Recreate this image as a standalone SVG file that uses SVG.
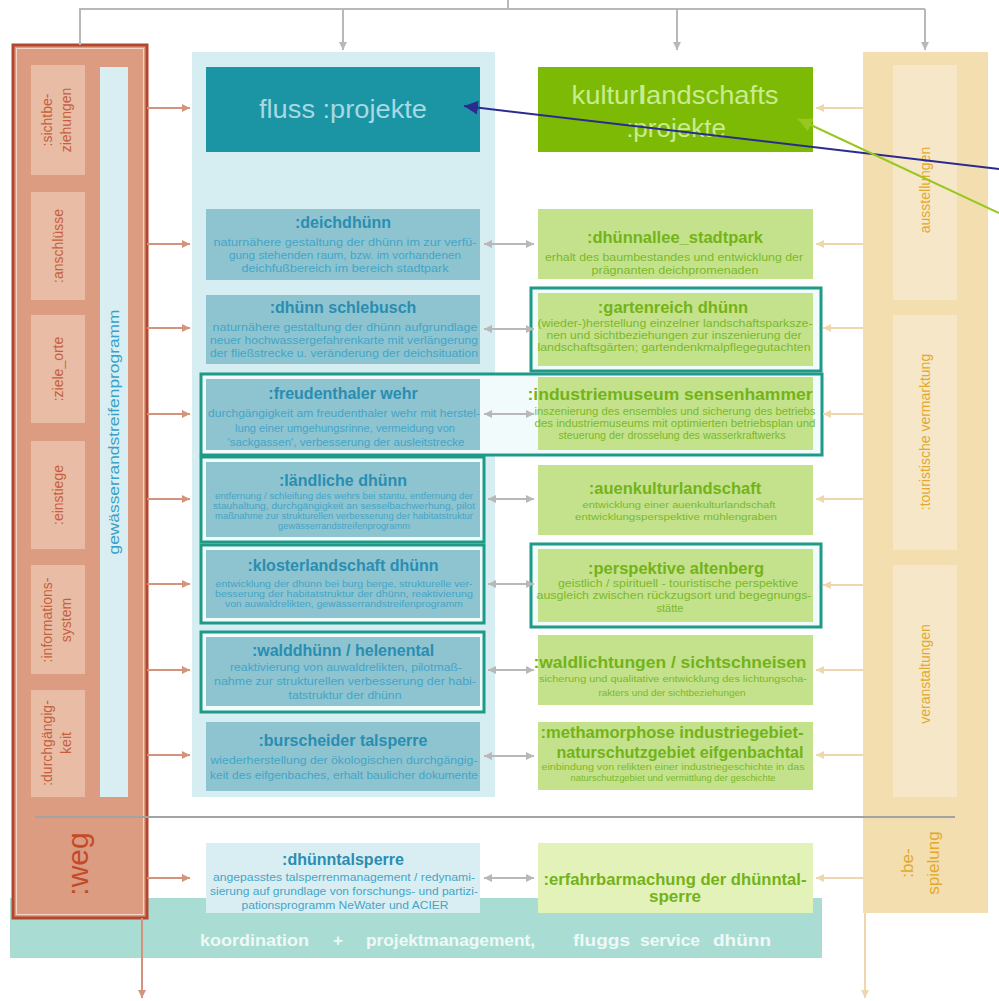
<svg xmlns="http://www.w3.org/2000/svg" width="999" height="1001" viewBox="0 0 999 1001">
<style>
text{font-family:"Liberation Sans",Arial,sans-serif}
.ct{font-weight:bold;font-size:16px;fill:#2a8db2;text-anchor:middle}
.cb{font-size:11px;fill:#45a5c6;text-anchor:middle}
.gt{font-weight:bold;font-size:16.5px;fill:#73b319;text-anchor:middle}
.gb{font-size:10px;fill:#7bb92a;text-anchor:middle}
.cn{fill:#8dc4d0}
.gn{fill:#c4e28b}
.ol{fill:#f2fbfb;stroke:#1f9a88;stroke-width:3}
.lb{fill:#e9bca6}
.ll{font-size:14px;fill:#c4603c;text-anchor:middle}
.rb{fill:#f6e7c9}
.rl{font-size:14px;fill:#e2a92a;text-anchor:middle}
.sal{stroke:#d4937c;stroke-width:2;fill:none}
.bei{stroke:#efd6ad;stroke-width:2;fill:none}
.gry{stroke:#b8b8b8;stroke-width:2;fill:none}
.bt{font-weight:bold;font-size:17px;fill:#eef9f6}
</style>
<defs>
<marker id="ah-sal" viewBox="0 0 10 10" refX="10" refY="5" markerWidth="8" markerHeight="8" markerUnits="userSpaceOnUse" orient="auto"><path d="M0,0 L10,5 L0,10 z" fill="#d4937c"/></marker>
<marker id="ah-bei" viewBox="0 0 10 10" refX="10" refY="5" markerWidth="8" markerHeight="8" markerUnits="userSpaceOnUse" orient="auto"><path d="M0,0 L10,5 L0,10 z" fill="#efd6ad"/></marker>
<marker id="ah-gry" viewBox="0 0 10 10" refX="10" refY="5" markerWidth="8" markerHeight="8" markerUnits="userSpaceOnUse" orient="auto-start-reverse"><path d="M0,0 L10,5 L0,10 z" fill="#b8b8b8"/></marker>
<marker id="ah-navy" viewBox="0 0 10 10" refX="10" refY="5" markerWidth="14" markerHeight="14" markerUnits="userSpaceOnUse" orient="auto"><path d="M0,0 L10,5 L0,10 z" fill="#2b2b8f"/></marker>
<marker id="ah-lime" viewBox="0 0 10 10" refX="10" refY="5" markerWidth="14" markerHeight="14" markerUnits="userSpaceOnUse" orient="auto"><path d="M0,0 L10,5 L0,10 z" fill="#96c81e"/></marker>
</defs>
<rect width="999" height="1001" fill="#ffffff"/>

<g id="koordination">
<rect x="10" y="898" width="812" height="60" fill="#a9ddd4"/>
<text class="bt" x="200" y="946" textLength="109" lengthAdjust="spacingAndGlyphs">koordination</text>
<text class="bt" x="333" y="946">+</text>
<text class="bt" x="366" y="946" textLength="169" lengthAdjust="spacingAndGlyphs">projektmanagement,</text>
<text class="bt" x="573" y="946" textLength="57" lengthAdjust="spacingAndGlyphs">fluggs</text>
<text class="bt" x="640" y="946" textLength="60" lengthAdjust="spacingAndGlyphs">service</text>
<text class="bt" x="713" y="946" textLength="58" lengthAdjust="spacingAndGlyphs">dhünn</text>
</g>

<g id="weg">
<rect x="13" y="45" width="134" height="873" fill="#dc9c82" stroke="#b4462e" stroke-width="3"/>
<rect x="16.5" y="48.5" width="127" height="866" fill="none" stroke="#f3d6c8" stroke-width="1"/>
<rect x="100" y="67" width="28" height="730" fill="#d8eef2"/>
<text x="0" y="0" transform="translate(114,432) rotate(-90)" font-size="14" fill="#3aa0c8" text-anchor="middle" dominant-baseline="central" textLength="245" lengthAdjust="spacingAndGlyphs">gewässerrandstreifenprogramm</text>
<g id="weg-sichtbeziehungen"><rect class="lb" x="31" y="65" width="54" height="110"/><text class="ll" transform="translate(58,120) rotate(-90)"><tspan x="0" y="-6">:sichtbe-</tspan><tspan x="0" y="13">ziehungen</tspan></text></g>
<g id="weg-anschluesse"><rect class="lb" x="31" y="192" width="54" height="108"/><text class="ll" transform="translate(58,246) rotate(-90)" x="0" y="5">:anschlüsse</text></g>
<g id="weg-ziele"><rect class="lb" x="31" y="315" width="54" height="108"/><text class="ll" transform="translate(58,369) rotate(-90)" x="0" y="5">:ziele_orte</text></g>
<g id="weg-einstiege"><rect class="lb" x="31" y="441" width="54" height="108"/><text class="ll" transform="translate(58,495) rotate(-90)" x="0" y="5">:einstiege</text></g>
<g id="weg-information"><rect class="lb" x="31" y="565" width="54" height="109"/><text class="ll" transform="translate(58,620) rotate(-90)"><tspan x="0" y="-6">:informations-</tspan><tspan x="0" y="13">system</tspan></text></g>
<g id="weg-durchgaengigkeit"><rect class="lb" x="31" y="690" width="54" height="107"/><text class="ll" transform="translate(58,743) rotate(-90)"><tspan x="0" y="-6">:durchgängig-</tspan><tspan x="0" y="13">keit</tspan></text></g>
<text transform="translate(80,864) rotate(-90)" x="0" y="8" font-size="30" fill="#c24b29" text-anchor="middle">:weg</text>
</g>

<rect id="fluss-bg" x="192" y="52" width="303" height="745" fill="#d6edf1"/>

<g id="bespielung">
<rect x="863" y="52" width="125" height="861" fill="#f3deb0"/>
<g id="bespielung-ausstellungen"><rect class="rb" x="893" y="65" width="64" height="235"/><text class="rl" transform="translate(925,190) rotate(-90)" x="0" y="5">ausstellungen</text></g>
<g id="bespielung-vermarktung"><rect class="rb" x="893" y="315" width="64" height="235"/><text class="rl" transform="translate(925,432) rotate(-90)" x="0" y="5">:touristische vermarktung</text></g>
<g id="bespielung-veranstaltungen"><rect class="rb" x="893" y="565" width="64" height="232"/><text class="rl" transform="translate(925,674) rotate(-90)" x="0" y="5">veranstaltungen</text></g>
<text class="rl" style="font-size:17px" transform="translate(920,863) rotate(-90)"><tspan x="0" y="-7">:be-</tspan><tspan x="0" y="19">spielung</tspan></text>
</g>

<line id="separator" x1="35" y1="817" x2="955" y2="817" stroke="#a3a3a3" stroke-width="2"/>

<g id="outlines">
<rect class="ol" x="201" y="374" width="621" height="81"/>
<rect class="ol" x="531" y="288" width="290" height="83"/>
<rect class="ol" x="201" y="457" width="283" height="85"/>
<rect class="ol" x="201" y="545" width="283" height="78"/>
<rect class="ol" x="531" y="544" width="290" height="83"/>
<rect class="ol" x="201" y="632" width="283" height="80"/>
</g>

<g id="fluss-projekte">
<rect x="206" y="67" width="274" height="85" fill="#1b94a3"/>
<text x="343" y="118" font-size="26" fill="#a6dae2" text-anchor="middle" textLength="168" lengthAdjust="spacingAndGlyphs">fluss :projekte</text>
</g>
<g id="kulturlandschafts-projekte">
<rect x="538" y="67" width="275" height="85" fill="#7cba05"/>
<text x="675" y="104" font-size="26" fill="#c9ec8e" text-anchor="middle" textLength="207" lengthAdjust="spacingAndGlyphs">kultur<tspan font-weight="bold">l</tspan>andschafts</text>
<text x="676" y="137" font-size="26" fill="#c9ec8e" text-anchor="middle">:projekte</text>
</g>

<g id="deichdhuenn"><rect class="cn" x="206" y="209" width="274" height="71"/>
<text class="ct" x="343" y="228">:deichdhünn</text>
<text class="cb" x="345" y="246" textLength="263" lengthAdjust="spacingAndGlyphs">naturnähere gestaltung der dhünn im zur verfü-</text>
<text class="cb" x="345" y="259" textLength="232" lengthAdjust="spacingAndGlyphs">gung stehenden raum, bzw. im vorhandenen</text>
<text class="cb" x="345" y="272" textLength="207" lengthAdjust="spacingAndGlyphs">deichfußbereich im bereich stadtpark</text></g>

<g id="dhuenn-schlebusch"><rect class="cn" x="206" y="295" width="274" height="69"/>
<text class="ct" x="343" y="313">:dhünn schlebusch</text>
<text class="cb" x="345" y="331" textLength="265" lengthAdjust="spacingAndGlyphs">naturnähere gestaltung der dhünn aufgrundlage</text>
<text class="cb" x="344" y="344" textLength="268" lengthAdjust="spacingAndGlyphs">neuer hochwassergefahrenkarte mit verlängerung</text>
<text class="cb" x="344" y="357" textLength="268" lengthAdjust="spacingAndGlyphs">der fließstrecke u. veränderung der deichsituation</text></g>

<g id="freudenthaler-wehr"><rect class="cn" x="206" y="379" width="274" height="71"/>
<text class="ct" x="343" y="399">:freudenthaler wehr</text>
<text class="cb" x="344" y="417" textLength="272" lengthAdjust="spacingAndGlyphs">durchgängigkeit am freudenthaler wehr mit herstel-</text>
<text class="cb" x="345" y="432" textLength="220" lengthAdjust="spacingAndGlyphs">lung einer umgehungsrinne, vermeidung von</text>
<text class="cb" x="346" y="446" textLength="237" lengthAdjust="spacingAndGlyphs">'sackgassen', verbesserung der ausleitstrecke</text></g>

<g id="laendliche-dhuenn"><rect class="cn" x="206" y="462" width="274" height="75"/>
<text class="ct" x="343" y="486">:ländliche dhünn</text>
<text class="cb" style="font-size:8.5px" x="344" y="499" textLength="258" lengthAdjust="spacingAndGlyphs">entfernung / schleifung des wehrs bei stantu, entfernung der</text>
<text class="cb" style="font-size:8.5px" x="344" y="509" textLength="262" lengthAdjust="spacingAndGlyphs">stauhaltung, durchgängigkeit an sesselbachwerhung, pilot</text>
<text class="cb" style="font-size:8.5px" x="344" y="519" textLength="258" lengthAdjust="spacingAndGlyphs">maßnahme zur strukturellen verbesserung der habitatstruktur</text>
<text class="cb" style="font-size:8.5px" x="344" y="529" textLength="132" lengthAdjust="spacingAndGlyphs">gewässerrandstreifenprogramm</text></g>

<g id="klosterlandschaft-dhuenn"><rect class="cn" x="206" y="550" width="274" height="68"/>
<text class="ct" x="343" y="571">:klosterlandschaft dhünn</text>
<text class="cb" style="font-size:9.5px" x="344" y="587" textLength="257" lengthAdjust="spacingAndGlyphs">entwicklung der dhünn bei burg berge, strukturelle ver-</text>
<text class="cb" style="font-size:9.5px" x="344" y="597" textLength="258" lengthAdjust="spacingAndGlyphs">besserung der habitatstruktur der dhünn, reaktivierung</text>
<text class="cb" style="font-size:9.5px" x="344" y="607" textLength="238" lengthAdjust="spacingAndGlyphs">von auwaldrelikten, gewässerrandstreifenprogramm</text></g>

<g id="walddhuenn-helenental"><rect class="cn" x="206" y="637" width="274" height="69"/>
<text class="ct" x="343" y="656">:walddhünn / helenental</text>
<text class="cb" x="346" y="671" textLength="232" lengthAdjust="spacingAndGlyphs">reaktivierung von auwaldrelikten, pilotmaß-</text>
<text class="cb" x="345" y="685" textLength="262" lengthAdjust="spacingAndGlyphs">nahme zur strukturellen verbesserung der habi-</text>
<text class="cb" x="345" y="699" textLength="113" lengthAdjust="spacingAndGlyphs">tatstruktur der dhünn</text></g>

<g id="burscheider-talsperre"><rect class="cn" x="206" y="722" width="274" height="69"/>
<text class="ct" x="343" y="746">:burscheider talsperre</text>
<text class="cb" x="344" y="764" textLength="267" lengthAdjust="spacingAndGlyphs">wiederherstellung der ökologischen durchgängig-</text>
<text class="cb" x="344" y="779" textLength="268" lengthAdjust="spacingAndGlyphs">keit des eifgenbaches, erhalt baulicher dokumente</text></g>

<g id="dhuenntalsperre"><rect x="206" y="843" width="274" height="70" fill="#d9eef3"/>
<text class="ct" x="343" y="865">:dhünntalsperre</text>
<text class="cb" x="344" y="881" textLength="262" lengthAdjust="spacingAndGlyphs">angepasstes talsperrenmanagement / redynami-</text>
<text class="cb" x="344" y="895" textLength="268" lengthAdjust="spacingAndGlyphs">sierung auf grundlage von forschungs- und partizi-</text>
<text class="cb" x="345" y="909" textLength="207" lengthAdjust="spacingAndGlyphs">pationsprogramm NeWater und ACIER</text></g>

<g id="dhuennallee-stadtpark"><rect class="gn" x="538" y="209" width="275" height="70"/>
<text class="gt" x="675" y="243">:dhünnallee_stadtpark</text>
<text class="gb" x="674" y="260.5" textLength="258" lengthAdjust="spacingAndGlyphs">erhalt des baumbestandes und entwicklung der</text>
<text class="gb" x="675" y="273.5" textLength="167" lengthAdjust="spacingAndGlyphs">prägnanten deichpromenaden</text></g>

<g id="gartenreich-dhuenn"><rect class="gn" x="538" y="293" width="275" height="73"/>
<text class="gt" x="673" y="313">:gartenreich dhünn</text>
<text class="gb" x="675" y="326.5" textLength="275" lengthAdjust="spacingAndGlyphs">(wieder-)herstellung einzelner landschaftsparksze-</text>
<text class="gb" x="674" y="338.5" textLength="255" lengthAdjust="spacingAndGlyphs">nen und sichtbeziehungen zur inszenierung der</text>
<text class="gb" x="674" y="350.5" textLength="273" lengthAdjust="spacingAndGlyphs">landschaftsgärten; gartendenkmalpflegegutachten</text></g>

<g id="industriemuseum-sensenhammer"><rect class="gn" x="538" y="377" width="275" height="73"/>
<text class="gt" x="670" y="400" textLength="285" lengthAdjust="spacingAndGlyphs">:industriemuseum sensenhammer</text>
<text class="gb" x="675" y="414.5" textLength="281" lengthAdjust="spacingAndGlyphs">inszenierung des ensembles und sicherung des betriebs</text>
<text class="gb" x="675" y="426.5" textLength="281" lengthAdjust="spacingAndGlyphs">des industriemuseums mit optimierten betriebsplan und</text>
<text class="gb" x="672" y="438.5" textLength="227" lengthAdjust="spacingAndGlyphs">steuerung der drosselung des wasserkraftwerks</text></g>

<g id="auenkulturlandschaft"><rect class="gn" x="538" y="465" width="275" height="70"/>
<text class="gt" x="675" y="494">:auenkulturlandschaft</text>
<text class="gb" style="font-size:9px" x="679" y="508" textLength="193" lengthAdjust="spacingAndGlyphs">entwicklung einer auenkulturlandschaft</text>
<text class="gb" style="font-size:9px" x="676" y="520" textLength="202" lengthAdjust="spacingAndGlyphs">entwicklungsperspektive mühlengraben</text></g>

<g id="perspektive-altenberg"><rect class="gn" x="538" y="549" width="275" height="73"/>
<text class="gt" x="676" y="574">:perspektive altenberg</text>
<text class="gb" style="font-size:11px" x="678" y="587" textLength="240" lengthAdjust="spacingAndGlyphs">geistlich / spirituell - touristische perspektive</text>
<text class="gb" style="font-size:11px" x="674" y="599" textLength="275" lengthAdjust="spacingAndGlyphs">ausgleich zwischen rückzugsort und begegnungs-</text>
<text class="gb" style="font-size:11px" x="670" y="612">stätte</text></g>

<g id="waldlichtungen-sichtschneisen"><rect class="gn" x="538" y="635" width="275" height="70"/>
<text class="gt" x="670" y="668" textLength="273" lengthAdjust="spacingAndGlyphs">:waldlichtungen / sichtschneisen</text>
<text class="gb" style="font-size:9.5px" x="673" y="681.5" textLength="268" lengthAdjust="spacingAndGlyphs">sicherung und qualitative entwicklung des lichtungscha-</text>
<text class="gb" style="font-size:9.5px" x="672" y="695.5" textLength="147" lengthAdjust="spacingAndGlyphs">rakters und der sichtbeziehungen</text></g>

<g id="methamorphose"><rect class="gn" x="538" y="722" width="275" height="68"/>
<text class="gt" x="672" y="738" textLength="263" lengthAdjust="spacingAndGlyphs">:methamorphose industriegebiet-</text>
<text class="gt" x="680" y="758" textLength="247" lengthAdjust="spacingAndGlyphs">naturschutzgebiet eifgenbachtal</text>
<text class="gb" style="font-size:9px" x="673" y="770" textLength="263" lengthAdjust="spacingAndGlyphs">einbindung von relikten einer industriegeschichte in das</text>
<text class="gb" style="font-size:9px" x="673" y="781" textLength="205" lengthAdjust="spacingAndGlyphs">naturschutzgebiet und vermittlung der geschichte</text></g>

<g id="erfahrbarmachung"><rect x="538" y="843" width="275" height="70" fill="#e2f2b9"/>
<text class="gt" style="font-size:17px" x="675" y="885" textLength="263" lengthAdjust="spacingAndGlyphs">:erfahrbarmachung der dhünntal-</text>
<text class="gt" style="font-size:17px" x="675" y="902">sperre</text></g>

<g id="connectors">
<path class="gry" d="M80,45 V9 H925 M508,0 V9"/>
<line class="gry" x1="343" y1="9" x2="343" y2="50" marker-end="url(#ah-gry)"/>
<line class="gry" x1="677" y1="9" x2="677" y2="50" marker-end="url(#ah-gry)"/>
<line class="gry" x1="925" y1="9" x2="925" y2="50" marker-end="url(#ah-gry)"/>

<g id="weg-arrows">
<line class="sal" x1="147" y1="108" x2="190" y2="108" marker-end="url(#ah-sal)"/>
<line class="sal" x1="147" y1="244" x2="190" y2="244" marker-end="url(#ah-sal)"/>
<line class="sal" x1="147" y1="328" x2="190" y2="328" marker-end="url(#ah-sal)"/>
<line class="sal" x1="147" y1="414" x2="190" y2="414" marker-end="url(#ah-sal)"/>
<line class="sal" x1="147" y1="499" x2="190" y2="499" marker-end="url(#ah-sal)"/>
<line class="sal" x1="147" y1="584" x2="190" y2="584" marker-end="url(#ah-sal)"/>
<line class="sal" x1="147" y1="670" x2="190" y2="670" marker-end="url(#ah-sal)"/>
<line class="sal" x1="147" y1="755" x2="190" y2="755" marker-end="url(#ah-sal)"/>
<line class="sal" x1="147" y1="878" x2="190" y2="878" marker-end="url(#ah-sal)"/>
<line class="sal" x1="142" y1="918" x2="142" y2="998" marker-end="url(#ah-sal)"/>
</g>

<g id="pair-arrows">
<line class="gry" x1="484" y1="244" x2="534" y2="244" marker-start="url(#ah-gry)" marker-end="url(#ah-gry)"/>
<line class="gry" x1="484" y1="329" x2="534" y2="329" marker-start="url(#ah-gry)" marker-end="url(#ah-gry)"/>
<line class="gry" x1="484" y1="414" x2="534" y2="414" marker-start="url(#ah-gry)" marker-end="url(#ah-gry)"/>
<line class="gry" x1="488" y1="499" x2="534" y2="499" marker-start="url(#ah-gry)" marker-end="url(#ah-gry)"/>
<line class="gry" x1="488" y1="584" x2="534" y2="584" marker-start="url(#ah-gry)" marker-end="url(#ah-gry)"/>
<line class="gry" x1="488" y1="670" x2="534" y2="670" marker-start="url(#ah-gry)" marker-end="url(#ah-gry)"/>
<line class="gry" x1="484" y1="756" x2="534" y2="756" marker-start="url(#ah-gry)" marker-end="url(#ah-gry)"/>
<line class="gry" x1="484" y1="878" x2="534" y2="878" marker-start="url(#ah-gry)" marker-end="url(#ah-gry)"/>
</g>

<g id="bespielung-arrows">
<line class="bei" x1="863" y1="108" x2="816" y2="108" marker-end="url(#ah-bei)"/>
<line class="bei" x1="863" y1="244" x2="816" y2="244" marker-end="url(#ah-bei)"/>
<line class="bei" x1="863" y1="328" x2="823" y2="328" marker-end="url(#ah-bei)"/>
<line class="bei" x1="863" y1="414" x2="823" y2="414" marker-end="url(#ah-bei)"/>
<line class="bei" x1="863" y1="499" x2="816" y2="499" marker-end="url(#ah-bei)"/>
<line class="bei" x1="863" y1="585" x2="823" y2="585" marker-end="url(#ah-bei)"/>
<line class="bei" x1="863" y1="670" x2="816" y2="670" marker-end="url(#ah-bei)"/>
<line class="bei" x1="863" y1="755" x2="816" y2="755" marker-end="url(#ah-bei)"/>
<line class="bei" x1="863" y1="878" x2="816" y2="878" marker-end="url(#ah-bei)"/>
<line class="bei" x1="865" y1="913" x2="865" y2="998" marker-end="url(#ah-bei)"/>
</g>

<line x1="999" y1="169" x2="464" y2="106" stroke="#2b2b8f" stroke-width="2" marker-end="url(#ah-navy)"/>
<line x1="999" y1="213" x2="798" y2="119" stroke="#96c81e" stroke-width="2" marker-end="url(#ah-lime)"/>
</g>
</svg>
